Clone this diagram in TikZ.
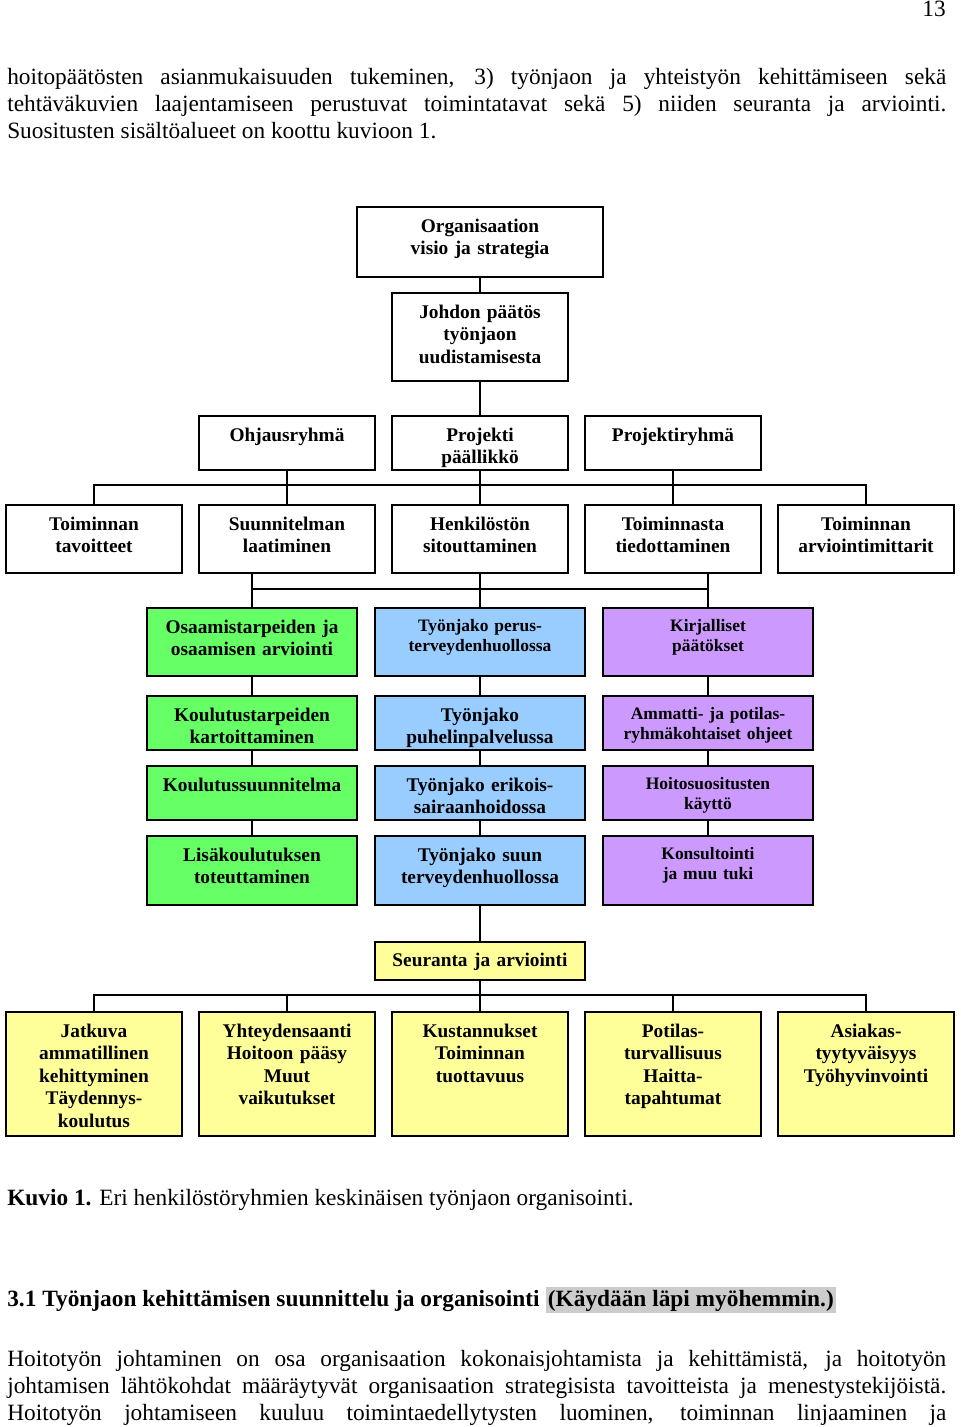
\documentclass[tikz,border=0pt]{standalone}
\usepackage{fontspec}
\setmainfont{Liberation Serif}
\usetikzlibrary{fit}

\definecolor{boxgreen}{HTML}{66FF66}
\definecolor{boxblue}{HTML}{99CCFF}
\definecolor{boxpurple}{HTML}{CC99FF}
\definecolor{boxyellow}{HTML}{FFFF99}
\definecolor{hlgray}{HTML}{CCCCCC}

\begin{document}
\begin{tikzpicture}[ x=0.75pt, y=-0.75pt, box/.style={
          draw, line width=1.4pt, inner sep=0pt },
        lbl/.style={ anchor=base, inner sep=0pt, text width=180pt, align=center,
          font=\bfseries\fontsize{14.5}{16.9}\selectfont },
        small/.style={ font=\bfseries\fontsize{13.1}{15}\selectfont },
        link/.style={ line width=1.4pt },
        body/.style={ anchor=base west, inner sep=0pt, text width=704.25pt,
          align=justify, font=\fontsize{17.5}{20.25}\selectfont,
          execute at begin node={\tolerance=9999\hyphenpenalty=10000} } ]
        \useasboundingbox[fill=white] (0,0) rectangle (960,1427);

        % text round the figure
        \node[anchor=base east, inner sep=0pt, font=\fontsize{17.5}{20}\selectfont]
        (pnum) at (946,17) {13};
        \node[body] (par1) at (7,85) {hoitopäätösten asianmukaisuuden
        tukeminen, 3) työnjaon ja yhteistyön kehittämiseen sekä\linebreak
        tehtäväkuvien laajentamiseen perustuvat toimintatavat sekä 5) niiden
        seuranta ja arviointi.\linebreak Suositusten sisältöalueet on koottu
        kuvioon 1.};

        % upper part
        \node[box, fit={(357,207) (603,277)}] (org) {};
        \node[lbl] at ([yshift=-19.5pt]org.north) {Organisaation\\visio ja strategia};
        \node[box, fit={(392,293) (568,381)}] (joh) {};
        \node[lbl] at ([yshift=-19.5pt]joh.north) {Johdon päätös\\työnjaon\\uudistamisesta};

        \foreach \n/\a/\t in {ohj/199/Ohjausryhmä,prj/392/{Projekti\\päällikkö},prr/585/Projektiryhmä}
        { \node[box, fit={(\a,416) (\a+176,470)}] (\n) {};
          \node[lbl] at ([yshift=-19.5pt]\n.north) {\t}; }

        \foreach \n/\a/\t in {tav/6/{Toiminnan\\tavoitteet},suu/199/{Suunnitelman\\laatiminen},
          hen/392/{Henkilöstön\\sitouttaminen},tie/585/{Toiminnasta\\tiedottaminen},
          arv/778/{Toiminnan\\arviointimittarit}}
        { \node[box, fit={(\a,505) (\a+176,573)}] (\n) {};
          \node[lbl] at ([yshift=-19.5pt]\n.north) {\t}; }

        % three columns
        \foreach \c/\a/\col in {g/147/boxgreen,b/375/boxblue,p/603/boxpurple}
        \foreach \r/\t/\b in {1/608/676,2/696/750,3/766/820,4/836/905}
        \node[box, fill=\col, fit={(\a,\t) (\a+210,\b)}] (\c\r) {};

        \node[lbl] at ([yshift=-19.5pt]g1.north) {Osaamistarpeiden ja\\osaamisen arviointi};
        \node[lbl] at ([yshift=-19.5pt]g2.north) {Koulutustarpeiden\\kartoittaminen};
        \node[lbl] at ([yshift=-19.5pt]g3.north) {Koulutussuunnitelma};
        \node[lbl] at ([yshift=-19.5pt]g4.north) {Lisäkoulutuksen\\toteuttaminen};
        \node[lbl,small] at ([yshift=-18.5pt]b1.north) {Työnjako perus-\\terveydenhuollossa};
        \node[lbl] at ([yshift=-19.5pt]b2.north) {Työnjako\\puhelinpalvelussa};
        \node[lbl] at ([yshift=-19.5pt]b3.north) {Työnjako erikois-\\sairaanhoidossa};
        \node[lbl] at ([yshift=-19.5pt]b4.north) {Työnjako suun\\terveydenhuollossa};
        \node[lbl,small] at ([yshift=-18pt]p1.north) {Kirjalliset\\päätökset};
        \node[lbl,small] at ([yshift=-18pt]p2.north) {Ammatti- ja potilas-\\ryhmäkohtaiset ohjeet};
        \node[lbl,small] at ([yshift=-18pt]p3.north) {Hoitosuositusten\\käyttö};
        \node[lbl,small] at ([yshift=-18pt]p4.north) {Konsultointi\\ja muu tuki};

        % follow-up
        \node[box, fill=boxyellow, fit={(375,942) (585,980)}] (seu) {};
        \node[lbl] at ([yshift=-18.75pt]seu.north) {Seuranta ja arviointi};

        \foreach \n/\a/\t in {y1/6/{Jatkuva\\ammatillinen\\kehittyminen\\Täydennys-\\koulutus},
          y2/199/{Yhteydensaanti\\Hoitoon pääsy\\Muut\\vaikutukset},
          y3/392/{Kustannukset\\Toiminnan\\tuottavuus},
          y4/585/{Potilas-\\turvallisuus\\Haitta-\\tapahtumat},
          y5/778/{Asiakas-\\tyytyväisyys\\Työhyvinvointi}}
        { \node[box, fill=boxyellow, fit={(\a,1012) (\a+176,1136)}] (\n) {};
          \node[lbl] at ([yshift=-19.5pt]\n.north) {\t}; }

        % connectors
        \draw[link] (org) -- (joh) -- (prj) -- (hen);
        \draw[link] (ohj) -- (suu); \draw[link] (prr) -- (tie);
        \draw[link] (tav.north) -- ++(0,-19) -| (arv.north);
        \draw[link] (g1.north) -- (g1.north |- suu.south);
        \draw[link] (p1.north) -- (p1.north |- tie.south);
        \draw[link] (g1.north) ++(0,-18) -| (p1.north);
        \draw[link] (hen) -- (b1);
        \foreach \c in {g,b,p} \draw[link] (\c1) -- (\c2) -- (\c3) -- (\c4);
        \draw[link] (b4) -- (seu) -- (y3);
        \draw[link] (y1.north) -- ++(0,-16) -| (y5.north);
        \draw[link] (y2.north) -- ++(0,-16); \draw[link] (y4.north) -- ++(0,-16);

        % caption and the next section
        \node[anchor=base west, inner sep=0pt, font=\fontsize{17.5}{20.25}\selectfont]
        (cap) at (7,1205) {\textbf{Kuvio 1.} Eri henkilöstöryhmien keskinäisen työnjaon organisointi.};
        \node[anchor=base west, inner sep=0pt, font=\bfseries\fontsize{17.5}{20.25}\selectfont]
        (head) at (7,1306) {3.1 Työnjaon kehittämisen suunnittelu ja organisointi
          {\setlength\fboxsep{1.8pt}\colorbox{hlgray}{(Käydään läpi myöhemmin.)}}};
        \node[body] (par2) at (7,1366) {{\parfillskip=0pt Hoitotyön johtaminen on osa
        organisaation kokonaisjohtamista ja kehittämistä, ja hoitotyön\linebreak
        johtamisen lähtökohdat määräytyvät organisaation strategisista
        tavoitteista ja menestystekijöistä.\linebreak Hoitotyön johtamiseen kuuluu
        toimintaedellytysten luominen, toiminnan linjaaminen ja\par}};
      \end{tikzpicture}
\end{document}
